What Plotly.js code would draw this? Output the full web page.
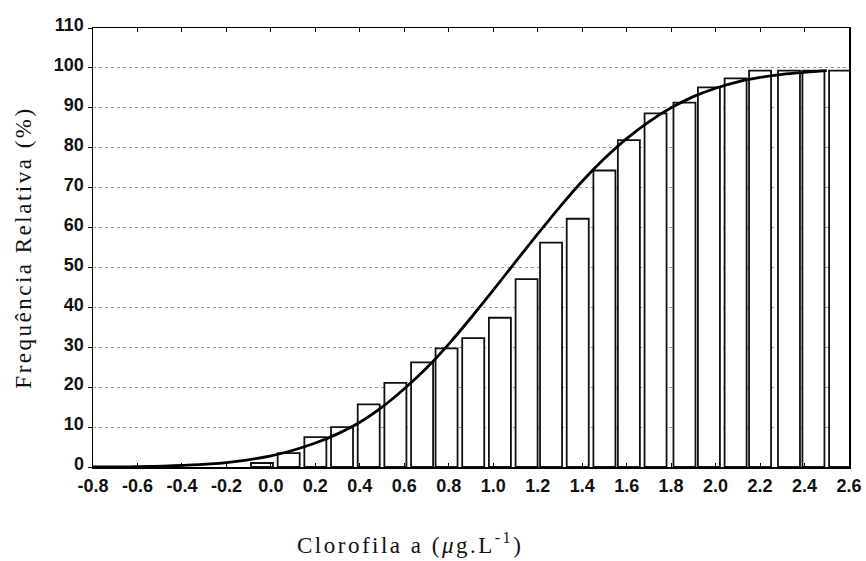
<!DOCTYPE html>
<html>
<head>
<meta charset="utf-8">
<script src="https://cdn.plot.ly/plotly-3.0.1.min.js"></script>
<style>
html,body{margin:0;padding:0;background:#fff;}
#chart{width:866px;height:561px;}
#chart .ytitle, #chart .annotation-text{letter-spacing:2.5px;}
</style>
</head>
<body>
<div id="chart"></div>
<script>
// Histogram bins (centres, µg/L) and cumulative relative frequency (%)
const binCenters = [-0.04, 0.08, 0.20, 0.32, 0.44, 0.56, 0.68, 0.79, 0.91, 1.03, 1.15, 1.26, 1.38, 1.50, 1.61, 1.73, 1.86, 1.97, 2.09, 2.20, 2.33, 2.44, 2.56];
const cumFreq = [1.0, 3.5, 7.5, 10.0, 15.7, 21.1, 26.2, 29.7, 32.3, 37.4, 47.1, 56.2, 62.2, 74.3, 81.9, 88.6, 91.3, 95.1, 97.4, 99.3, 99.3, 99.3, 99.3];

// Fitted cumulative curve
const curveX = [-0.8, -0.6, -0.4, -0.2, 0.0, 0.1, 0.2, 0.3, 0.4, 0.5, 0.6, 0.7, 0.8, 0.9, 1.0, 1.1, 1.2, 1.3, 1.4, 1.5, 1.6, 1.7, 1.8, 1.9, 2.0, 2.1, 2.2, 2.3, 2.4, 2.5];
const curveY = [0.0, 0.1, 0.4, 1.1, 2.8, 4.2, 6.0, 8.3, 11.2, 15.0, 19.6, 24.8, 30.8, 37.4, 44.3, 51.4, 58.4, 65.2, 71.6, 77.3, 82.3, 86.5, 90.0, 92.8, 94.9, 96.5, 97.6, 98.4, 98.9, 99.3];

// Axis ticks
const xTickVals = [-0.8, -0.6, -0.4, -0.2, 0.0, 0.2, 0.4, 0.6, 0.8, 1.0, 1.2, 1.4, 1.6, 1.8, 2.0, 2.2, 2.4, 2.6];
const xTickText = ["-0.8", "-0.6", "-0.4", "-0.2", "0.0", "0.2", "0.4", "0.6", "0.8", "1.0", "1.2", "1.4", "1.6", "1.8", "2.0", "2.2", "2.4", "2.6"];
const yTickVals = [0, 10, 20, 30, 40, 50, 60, 70, 80, 90, 100, 110];

const xTitle = "Clorofila a (<i>μ</i>g.L<sup>-1</sup>)";
const yTitle = "Frequência Relativa (%)";

const traces = [
  {
    type: 'bar',
    x: binCenters,
    y: cumFreq,
    width: 0.099,
    marker: {color: '#ffffff', line: {color: '#111111', width: 1.8}},
    hoverinfo: 'x+y'
  },
  {
    type: 'scatter',
    mode: 'lines',
    x: curveX,
    y: curveY,
    line: {color: '#000000', width: 2.8, shape: 'spline', smoothing: 1},
    hoverinfo: 'x+y'
  }
];

const tickFont = {family: 'Liberation Sans, Arial, sans-serif', size: 18, color: '#111', weight: 'bold'};
const titleFont = {family: 'Liberation Serif, Times New Roman, serif', size: 23, color: '#111'};

const layout = {
  width: 866,
  height: 561,
  margin: {l: 93, r: 17, t: 28, b: 94},
  paper_bgcolor: '#ffffff',
  plot_bgcolor: '#ffffff',
  showlegend: false,
  bargap: 0,
  xaxis: {
    range: [-0.8, 2.6],
    tickmode: 'array',
    tickvals: xTickVals,
    ticktext: xTickText,
    ticks: 'inside',
    ticklen: 4,
    tickcolor: '#000',
    showgrid: false,
    zeroline: false,
    showline: true,
    linecolor: '#000',
    linewidth: 1.5,
    mirror: 'ticks',
    tickfont: tickFont,
    ticklabelstandoff: 2
  },
  yaxis: {
    range: [0, 110],
    tickmode: 'array',
    tickvals: yTickVals,
    ticks: 'outside',
    ticklen: 4,
    tickcolor: '#000',
    showgrid: true,
    gridcolor: '#9a9a9a',
    griddash: 'dot',
    gridwidth: 1,
    zeroline: false,
    showline: true,
    linecolor: '#000',
    linewidth: 1.5,
    mirror: true,
    tickfont: tickFont,
    ticklabelshift: -3,
    title: {text: yTitle, font: titleFont, standoff: 16}
  },
  annotations: [
    {
      text: xTitle,
      xref: 'paper', yref: 'paper',
      x: (410 - 93) / 756, y: -0.175,
      xanchor: 'center', yanchor: 'middle',
      showarrow: false,
      font: titleFont
    }
  ]
};

Plotly.newPlot('chart', traces, layout, {displayModeBar: false, staticPlot: true});
</script>
</body>
</html>
